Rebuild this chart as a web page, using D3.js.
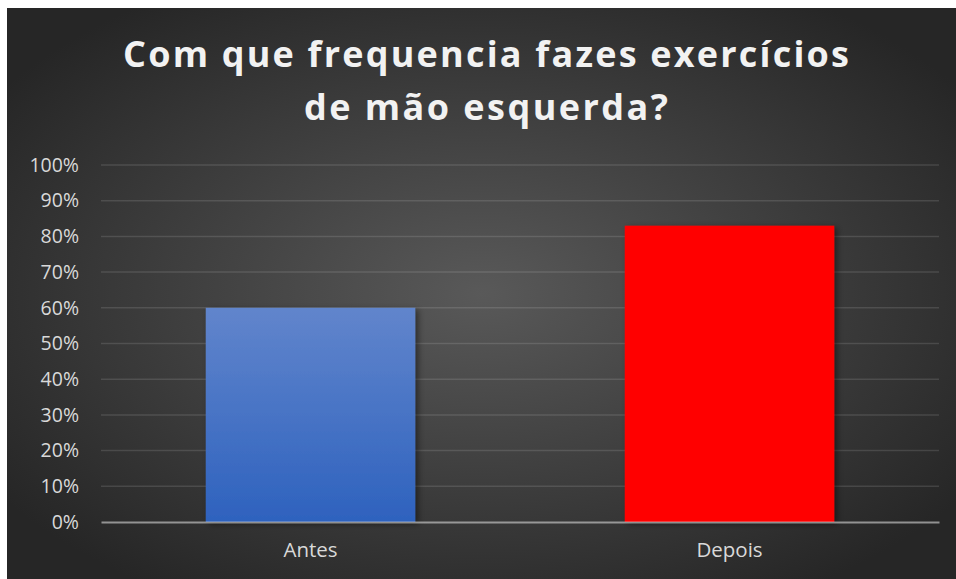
<!DOCTYPE html>
<html>
<head>
<meta charset="utf-8">
<script src="https://cdn.jsdelivr.net/npm/d3@7"></script>
<style>
  body { margin: 0; background: #fff; }
  svg { display: block; }
</style>
</head>
<body>
<div id="chart"></div>
<script>
// chart data
var categories = ["Antes", "Depois"];
var values = [0.60, 0.83];
var barColors = ["blue", "red"];
var yTicks = [0, 0.1, 0.2, 0.3, 0.4, 0.5, 0.6, 0.7, 0.8, 0.9, 1.0];
var titleLines = ["Com que frequencia fazes exercícios", "de mão esquerda?"];

var width = 956,
    height = 579;
var margin = {top: 165, right: 17, bottom: 57, left: 101};

var svg = d3.select("#chart")
    .append("svg")
    .attr("width", width)
    .attr("height", height);

var defs = svg.append("defs");

// background radial gradient (lighter centre)
var bg = defs.append("radialGradient")
    .attr("id", "bg")
    .attr("cx", "50%").attr("cy", "50%").attr("r", "62%");
bg.append("stop").attr("offset", "0%").attr("stop-color", "#595959");
bg.append("stop").attr("offset", "100%").attr("stop-color", "#262626");

var blue = defs.append("linearGradient")
    .attr("id", "blue")
    .attr("x1", 0).attr("y1", 0).attr("x2", 0).attr("y2", 1);
blue.append("stop").attr("offset", "0%").attr("stop-color", "#6185cc");
blue.append("stop").attr("offset", "100%").attr("stop-color", "#2e62be");

var shadow = defs.append("filter")
    .attr("id", "shadow")
    .attr("x", "-10%").attr("y", "-10%").attr("width", "130%").attr("height", "130%");
shadow.append("feDropShadow")
    .attr("dx", 3).attr("dy", 2)
    .attr("stdDeviation", 3)
    .attr("flood-color", "#000")
    .attr("flood-opacity", 0.45);

// chart area (white strip at top and left, like the picture)
svg.append("rect")
    .attr("x", 7).attr("y", 8)
    .attr("width", width - 7).attr("height", height - 8)
    .attr("fill", "url(#bg)");

// title
var title = svg.append("g")
    .attr("font-family", "'Open Sans', sans-serif")
    .attr("font-weight", "bold")
    .attr("font-size", 36)
    .attr("fill", "#f2f2f2")
    .attr("text-anchor", "middle");
title.selectAll("text")
    .data(titleLines)
    .enter()
    .append("text")
    .attr("x", 486)
    .attr("y", function(d, i) { return 67 + i * 53; })
    .attr("textLength", function(d, i) { return i == 0 ? 726 : 364; })
    .attr("lengthAdjust", "spacing")
    .text(function(d) { return d; });

var x = d3.scaleBand()
    .domain(categories)
    .range([margin.left, width - margin.right])
    .paddingInner(0.5)
    .paddingOuter(0.25);

var y = d3.scaleLinear()
    .domain([0, 1])
    .range([height - margin.bottom, margin.top]);

// gridlines
svg.append("g")
    .selectAll("line")
    .data(yTicks.slice(1))
    .enter()
    .append("line")
    .attr("x1", margin.left)
    .attr("x2", width - margin.right)
    .attr("y1", function(d) { return y(d); })
    .attr("y2", function(d) { return y(d); })
    .attr("stroke", "rgba(255,255,255,0.12)")
    .attr("stroke-width", 1.5);

// y axis labels
var yAxis = d3.axisLeft(y)
    .tickValues(yTicks)
    .tickFormat(d3.format(".0%"))
    .tickSize(0)
    .tickPadding(0);
var yg = svg.append("g")
    .attr("transform", "translate(79,0)")
    .call(yAxis);
yg.select(".domain").remove();
yg.selectAll("text")
    .attr("fill", "#d9d9d9")
    .attr("font-family", "'Open Sans', sans-serif")
    .attr("font-size", 19.5);

// bars
svg.append("g")
    .selectAll("rect")
    .data(values)
    .enter()
    .append("rect")
    .attr("x", function(d, i) { return x(categories[i]); })
    .attr("width", x.bandwidth())
    .attr("y", function(d) { return y(d); })
    .attr("height", function(d) { return y(0) - y(d); })
    .attr("fill", function(d, i) { return barColors[i] == "blue" ? "url(#blue)" : "#ff0000"; })
    .attr("filter", "url(#shadow)");

// x axis
var xAxis = d3.axisBottom(x).tickSize(0).tickPadding(20);
var xg = svg.append("g")
    .attr("transform", "translate(0," + y(0) + ")")
    .call(xAxis);
xg.select(".domain")
    .attr("stroke", "rgba(217,217,217,0.6)")
    .attr("stroke-width", 2);
xg.selectAll("text")
    .attr("fill", "#d9d9d9")
    .attr("font-family", "'Open Sans', sans-serif")
    .attr("font-size", 20.5);
</script>
</body>
</html>
